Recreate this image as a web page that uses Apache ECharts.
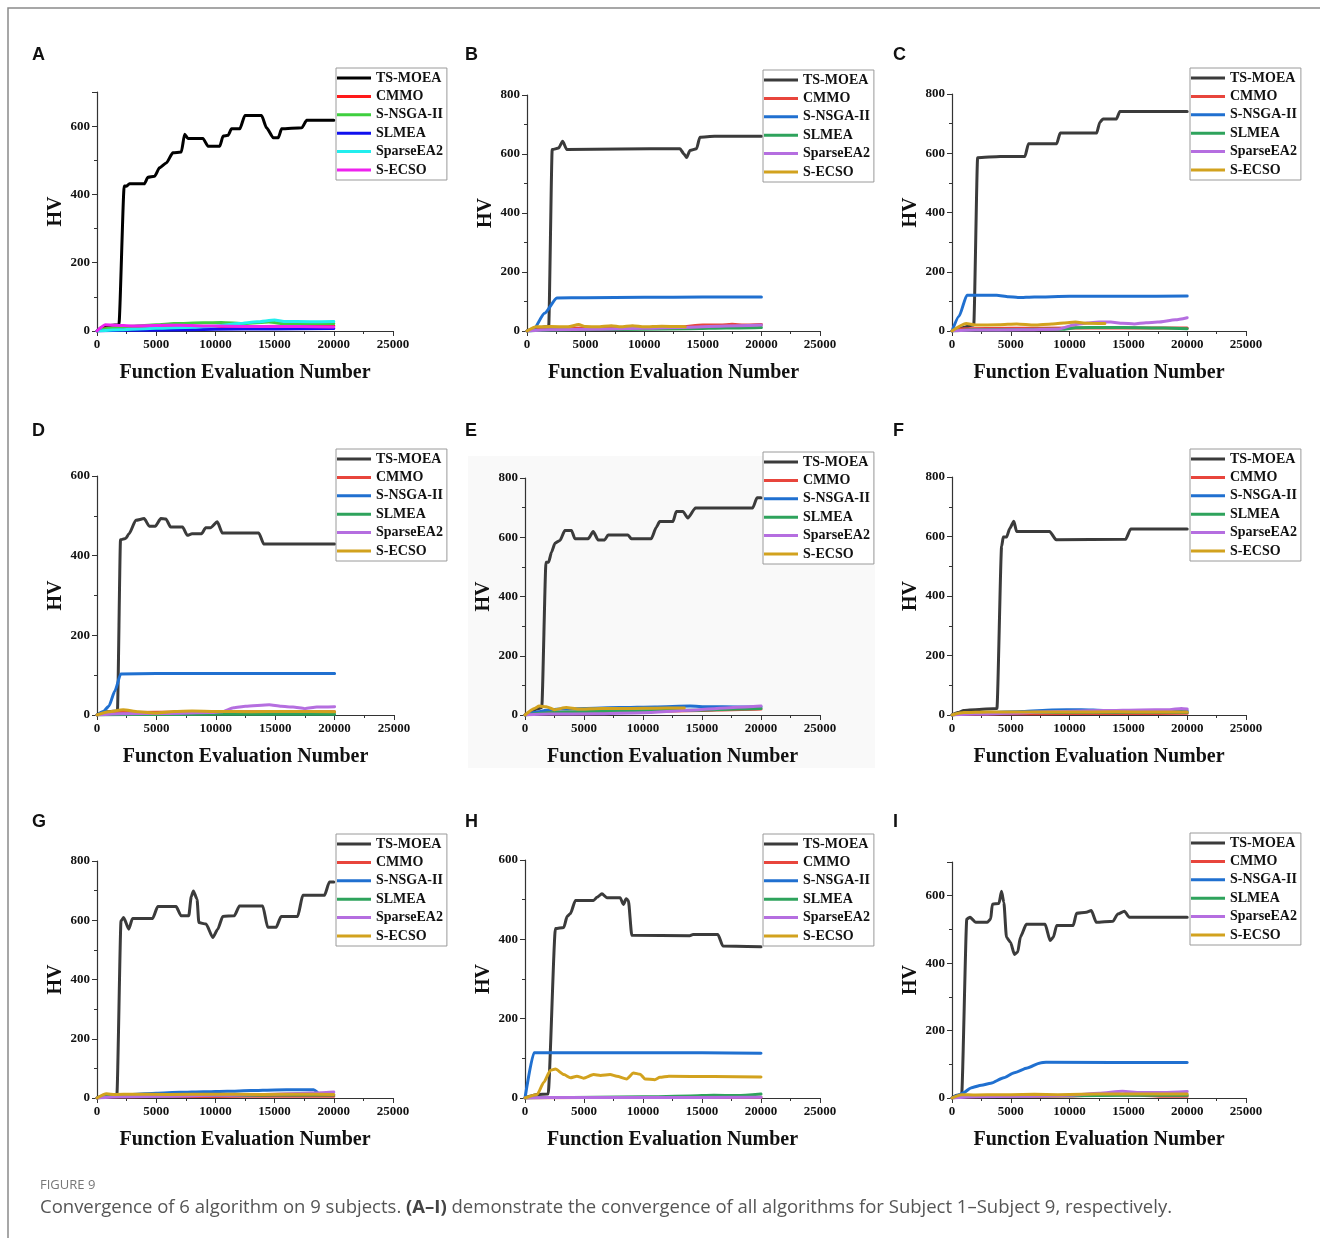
<!DOCTYPE html>
<html>
<head>
<meta charset="utf-8">
<title>Figure 9 - Convergence</title>
<script src="https://cdn.jsdelivr.net/npm/echarts@6/dist/echarts.min.js"></script>
<style>
  html, body { margin: 0; padding: 0; background: #fff; }
  #main { width: 1320px; height: 1238px; }
</style>
</head>
<body>
<div id="main"></div>
<script>
// algorithm names (legend order)
var names = ['TS-MOEA', 'CMMO', 'S-NSGA-II', 'SLMEA', 'SparseEA2', 'S-ECSO'];

// ---- Subject 1 (A) ----
var tsA = [[0,0],[400,10],[800,16],[1850,18],[2300,425],[2460,424],[2740,431],[4000,431],[4300,450],[4860,453],[5280,478],[5850,492],[6410,522],[7120,524],[7400,576],[7680,564],[8950,564],[9380,541],[10370,541],[10650,571],[11070,573],[11360,592],[12060,592],[12490,631],[13900,631],[14320,595],[14890,566],[15310,566],[15590,592],[17290,595],[17710,617],[20000,617]];
var cmA = [[0,0],[800,8],[2000,10],[5000,12],[8000,13],[12000,13],[16000,14],[20000,15]];
var nsA = [[0,0],[1000,8],[3000,14],[5000,18],[6500,22],[9000,24],[10500,25],[12500,22],[14500,26],[16000,21],[18000,22],[20000,22]];
var slA = [[0,0],[2000,2],[6000,3],[10000,5],[15000,6],[20000,7]];
var spA = [[0,0],[2000,4],[5000,8],[8000,11],[10000,14],[12000,22],[13500,27],[15000,32],[15800,28],[18000,27],[20000,28]];
var ecA = [[0,0],[700,18],[1500,17],[3000,15],[5000,16],[7000,17],[9000,15],[11000,14],[14000,13],[17000,13],[20000,12]];

// ---- Subject 2 (B) ----
var tsB = [[0,0],[500,8],[1850,15],[2150,615],[2700,620],[3040,643],[3400,615],[8000,617],[13050,618],[13400,600],[13620,588],[13900,612],[14470,618],[14750,657],[16000,660],[20000,660]];
var cmB = [[0,0],[1000,8],[5000,10],[10000,12],[13000,14],[15000,20],[16500,20],[17500,23],[18500,20],[20000,22]];
var nsB = [[0,0],[500,2],[1500,60],[2550,112],[5000,113],[10000,114],[15000,115],[20000,115]];
var slB = [[0,0],[2000,3],[6000,5],[10000,6],[14000,8],[17000,10],[20000,12]];
var spB = [[0,0],[2000,4],[6000,6],[10000,9],[14000,13],[17000,17],[20000,20]];
var ecB = [[0,0],[800,14],[2000,15],[3500,14],[4400,22],[5000,15],[6000,14],[7200,18],[8000,14],[9000,18],[10000,14],[11500,16],[13000,15],[13500,14]];

// ---- Subject 3 (C) ----
var tsC = [[0,0],[800,10],[1850,20],[2180,585],[4100,589],[6200,589],[6500,632],[8900,632],[9200,668],[12300,668],[12570,705],[12850,716],[13980,716],[14270,741],[20000,741]];
var cmC = [[0,0],[1000,8],[5000,9],[10000,10],[15000,10],[20000,10]];
var nsC = [[0,0],[600,50],[1270,121],[3800,121],[4800,116],[5600,113],[7000,115],[10000,117],[15000,117],[20000,118]];
var slC = [[0,0],[2000,4],[6000,5],[9500,6],[10500,11],[13000,12],[16000,11],[18000,10],[20000,8]];
var spC = [[0,0],[2000,3],[6000,4],[9000,6],[10500,22],[11500,27],[12500,30],[13500,30],[14500,26],[15500,24],[16500,28],[17500,30],[19000,38],[20000,45]];
var ecC = [[0,0],[1200,25],[2000,20],[4000,21],[5500,24],[7000,20],[8500,24],[9500,27],[10500,30],[11500,26],[13000,25]];

// ---- Subject 4 (D) ----
var tsD = [[0,0],[600,8],[1720,10],[1980,440],[2400,443],[2700,455],[3270,489],[3970,493],[4400,474],[4900,474],[5370,493],[5800,492],[6200,472],[7200,472],[7600,451],[8000,455],[8800,455],[9150,470],[9550,470],[10130,485],[10550,457],[13620,457],[14040,429],[20000,429]];
var cmD = [[0,0],[1000,6],[5000,7],[10000,8],[15000,8],[20000,8]];
var nsD = [[0,0],[500,8],[1000,22],[1500,60],[2000,103],[5000,104],[10000,104],[15000,104],[20000,104]];
var slD = [[0,0],[3000,1],[10000,2],[20000,2]];
var spD = [[0,0],[2000,3],[6000,4],[9500,6],[10500,8],[11500,18],[12500,22],[14500,26],[15500,22],[16500,20],[17500,16],[18500,20],[20000,21]];
var ecD = [[0,0],[1000,8],[2200,13],[3500,8],[5000,5],[6500,9],[8000,10],[10000,9],[13000,8],[16000,9],[20000,8]];

// ---- Subject 5 (E) ----
var tsE = [[0,0],[500,8],[1000,20],[1420,25],[1780,516],[2000,516],[2250,550],[2540,580],[2960,589],[3380,623],[3940,623],[4230,595],[5350,595],[5780,619],[6200,591],[6760,591],[7040,608],[8730,608],[9010,595],[10700,595],[11130,634],[11410,653],[12540,653],[12820,687],[13380,687],[13800,665],[14450,699],[19300,699],[19660,733],[20000,733]];
var cmE = [[0,0],[1000,8],[5000,10],[10000,12],[15000,15],[17500,18],[20000,20]];
var nsE = [[0,0],[1000,10],[2000,17],[3000,20],[5000,22],[8000,25],[11000,27],[14000,30],[15500,28],[18000,27],[20000,28]];
var slE = [[0,0],[2000,8],[6000,12],[10000,14],[14000,16],[18000,20],[20000,22]];
var spE = [[0,0],[2000,3],[6000,4],[10000,8],[14000,16],[17000,24],[19000,28],[20000,30]];
var ecE = [[0,0],[800,22],[1200,30],[1800,28],[2500,18],[3500,25],[4500,20],[6500,22],[9000,22],[11000,23],[13500,24]];

// ---- Subject 6 (F) ----
var tsF = [[0,0],[500,8],[1000,15],[2000,18],[3820,22],[4220,567],[4360,598],[4640,598],[4920,628],[5260,651],[5490,617],[8300,617],[8860,589],[14770,591],[15190,625],[20000,625]];
var cmF = [[0,0],[1000,3],[5000,4],[10000,5],[15000,5],[20000,6]];
var nsF = [[0,0],[1000,5],[3000,8],[6000,12],[8500,17],[11000,18],[13000,15],[16000,15],[18000,14],[20000,14]];
var slF = [[0,0],[1000,5],[5000,8],[10000,9],[15000,9],[20000,9]];
var spF = [[0,0],[2000,3],[5000,6],[9000,12],[13000,15],[16000,17],[18500,18],[19500,22],[20000,20]];
var ecF = [[0,0],[1000,8],[3000,10],[6000,10],[10000,10],[14000,11],[17000,10],[20000,10]];

// ---- Subject 7 (G) ----
var tsG = [[0,0],[500,8],[1000,12],[1680,12],[2030,598],[2250,609],[2680,570],[3000,606],[4700,606],[5130,646],[6680,646],[7100,615],[7750,615],[7960,680],[8140,699],[8450,671],[8600,592],[9210,587],[9780,542],[10200,570],[10620,613],[11600,615],[12030,648],[14000,648],[14420,576],[15130,576],[15550,613],[16950,613],[17380,684],[19210,684],[19630,729],[20000,729]];
var cmG = [[0,0],[1000,4],[5000,5],[10000,5],[15000,6],[20000,6]];
var nsG = [[0,0],[1000,8],[3000,12],[5000,16],[7000,19],[9000,21],[11000,23],[13000,25],[15000,27],[17000,28],[18300,28],[18600,20]];
var slG = [[0,0],[1000,5],[5000,8],[10000,9],[15000,10],[20000,10]];
var spG = [[0,0],[2000,4],[6000,6],[10000,9],[14000,12],[17000,15],[19000,18],[20000,20]];
var ecG = [[0,0],[800,14],[1500,12],[3000,13],[6000,12],[10000,13],[14000,12],[17000,13],[20000,12]];

// ---- Subject 8 (H) ----
var tsH = [[0,0],[500,5],[1000,9],[1960,10],[2580,427],[3290,430],[3570,458],[3850,465],[4270,498],[5810,498],[6100,506],[6520,515],[6940,505],[8060,505],[8340,488],[8570,502],[8760,498],[9050,410],[13960,409],[14240,412],[16350,412],[16770,383],[20000,381]];
var cmH = [[0,0],[5000,1],[10000,1],[20000,2]];
var nsH = [[0,0],[760,114],[5000,114],[10000,114],[15000,114],[20000,113]];
var slH = [[0,0],[2000,1],[6000,2],[10000,3],[14000,5],[16000,7],[18000,6],[20000,10]];
var spH = [[0,0],[2000,1],[10000,1],[20000,2]];
var ecH = [[0,0],[1040,9],[1600,40],[2160,70],[2580,73],[3300,59],[3850,51],[4400,55],[4970,50],[5810,59],[6400,57],[7220,59],[7780,55],[8620,48],[9190,63],[9750,60],[10170,48],[11000,46],[11430,52],[12200,55],[16000,54],[20000,53]];

// ---- Subject 9 (I) ----
var tsI = [[0,0],[400,8],[820,10],[1260,531],[1540,536],[2010,521],[3000,521],[3290,531],[3430,575],[3990,577],[4210,613],[4410,580],[4630,477],[4970,462],[5310,426],[5590,433],[5810,477],[6320,515],[7920,515],[8340,467],[8620,477],[8900,512],[10310,512],[10590,548],[11430,551],[11850,556],[12270,521],[13680,524],[14100,546],[14660,554],[15080,536],[20000,536]];
var cmI = [[0,0],[1000,4],[5000,5],[10000,6],[14000,10],[16000,8],[18000,5],[20000,5]];
var nsI = [[0,0],[500,8],[1000,16],[1600,30],[2500,38],[3300,44],[4400,60],[5300,75],[6400,89],[7500,104],[8000,106],[20000,105]];
var slI = [[0,0],[1000,5],[5000,6],[10000,7],[15000,8],[20000,8]];
var spI = [[0,0],[2000,4],[6000,5],[10000,8],[12500,14],[14500,20],[16000,16],[18000,16],[20000,19]];
var ecI = [[0,0],[800,10],[2000,9],[4000,10],[5000,10],[7000,11],[9000,10],[11000,11],[14000,12],[17000,12],[20000,12]];

var colorsA = ['#000000', '#ff1a1a', '#3fcf3f', '#1010ee', '#22eeee', '#ee22ee'];
var colorsRest = ['#3b3b3b', '#e8453c', '#2070d0', '#2ea35c', '#b56ee0', '#d2a21e'];

var serif = '"Liberation Serif", "Times New Roman", serif';

var panels = [
  { letter: 'A', lx: 32, ly: 46, grid: [97, 92, 296, 239], ymax: 700, leg: [336, 68], colors: colorsA, data: [tsA, cmA, nsA, slA, spA, ecA], xname: 'Function Evaluation Number' },
  { letter: 'B', lx: 465, ly: 46, grid: [527, 95, 293, 236], ymax: 800, leg: [763, 70], colors: colorsRest, data: [tsB, cmB, nsB, slB, spB, ecB], xname: 'Function Evaluation Number' },
  { letter: 'C', lx: 893, ly: 46, grid: [952, 94, 294, 237], ymax: 800, leg: [1190, 68], colors: colorsRest, data: [tsC, cmC, nsC, slC, spC, ecC], xname: 'Function Evaluation Number' },
  { letter: 'D', lx: 32, ly: 422, grid: [97, 476, 297, 239], ymax: 600, leg: [336, 449], colors: colorsRest, data: [tsD, cmD, nsD, slD, spD, ecD], xname: 'Functon Evaluation Number' },
  { letter: 'E', lx: 465, ly: 422, grid: [525, 478, 295, 237], ymax: 800, leg: [763, 452], colors: colorsRest, data: [tsE, cmE, nsE, slE, spE, ecE], xname: 'Function Evaluation Number' },
  { letter: 'F', lx: 893, ly: 422, grid: [952, 477, 294, 238], ymax: 800, leg: [1190, 449], colors: colorsRest, data: [tsF, cmF, nsF, slF, spF, ecF], xname: 'Function Evaluation Number' },
  { letter: 'G', lx: 32, ly: 813, grid: [97, 861, 296, 237], ymax: 800, leg: [336, 834], colors: colorsRest, data: [tsG, cmG, nsG, slG, spG, ecG], xname: 'Function Evaluation Number' },
  { letter: 'H', lx: 465, ly: 813, grid: [525, 860, 295, 238], ymax: 600, leg: [763, 834], colors: colorsRest, data: [tsH, cmH, nsH, slH, spH, ecH], xname: 'Function Evaluation Number' },
  { letter: 'I', lx: 893, ly: 813, grid: [952, 862, 294, 236], ymax: 700, leg: [1190, 833], colors: colorsRest, data: [tsI, cmI, nsI, slI, spI, ecI], xname: 'Function Evaluation Number' }
];

var axisColor = '#333';
var tickLabel = {
  fontFamily: serif, fontWeight: 'bold', fontSize: 13, color: '#111', margin: 7,
  formatter: function (v) { return String(v); }
};
var nameStyle = { fontFamily: serif, fontWeight: 'bold', fontSize: 20, color: '#111' };

var grids = [], xAxes = [], yAxes = [], legends = [], series = [];
var graphics = [
  { type: 'polyline', shape: { points: [[8, 1238], [8, 8], [1320, 8]] }, style: { stroke: '#8a8a8a', lineWidth: 1.5, fill: null } },
  { type: 'rect', shape: { x: 468, y: 456, width: 407, height: 312 }, style: { fill: '#f9f9f9' }, z: -10 }
];

panels.forEach(function (p, i) {
  grids.push({ left: p.grid[0], top: p.grid[1], width: p.grid[2], height: p.grid[3] });
  xAxes.push({
    type: 'value', gridIndex: i, min: 0, max: 25000, interval: 5000,
    name: p.xname, nameLocation: 'middle', nameGap: 32, nameTextStyle: nameStyle,
    axisLine: { lineStyle: { color: axisColor, width: 1.2 } },
    axisTick: { length: 5, lineStyle: { color: axisColor } },
    minorTick: { show: true, splitNumber: 2, length: 3, lineStyle: { color: axisColor } },
    splitLine: { show: false },
    axisLabel: tickLabel
  });
  yAxes.push({
    type: 'value', gridIndex: i, min: 0, max: p.ymax, interval: 200,
    name: 'HV', nameLocation: 'middle', nameGap: 31, nameTextStyle: nameStyle,
    axisLine: { show: true, lineStyle: { color: axisColor, width: 1.2 } },
    axisTick: { show: true, length: 5, lineStyle: { color: axisColor } },
    minorTick: { show: true, splitNumber: 2, length: 3, lineStyle: { color: axisColor } },
    splitLine: { show: false },
    axisLabel: Object.assign({ showMaxLabel: p.ymax % 200 === 0 }, tickLabel)
  });
  legends.push({
    orient: 'vertical', left: p.leg[0], top: p.leg[1],
    icon: 'rect', itemWidth: 34, itemHeight: 3, itemGap: 4.4,
    padding: [3, 4, 3, 1], borderColor: '#9a9a9a', borderWidth: 1, borderRadius: 0,
    backgroundColor: '#fff', selectedMode: false,
    textStyle: { fontFamily: serif, fontWeight: 'bold', fontSize: 14, lineHeight: 14, color: '#111' },
    data: names.map(function (n, k) { return { name: n, itemStyle: { color: p.colors[k] } }; })
  });
  p.data.forEach(function (d, k) {
    series.push({
      type: 'line', name: names[k], xAxisIndex: i, yAxisIndex: i, data: d,
      showSymbol: false, symbol: 'none', smooth: 0.2, smoothMonotone: 'x',
      lineStyle: { width: 3, color: p.colors[k], join: 'round', cap: 'round' },
      itemStyle: { color: p.colors[k] }
    });
  });
  graphics.push({
    type: 'text', left: p.lx, top: p.ly,
    style: { text: p.letter, font: 'bold 18px "Liberation Sans", Arial, sans-serif', fill: '#111' }
  });
});

graphics.push({
  type: 'text', left: 40, top: 1179,
  style: { text: 'FIGURE 9', font: '13px "Open Sans", sans-serif', fill: '#777' }
});
graphics.push({
  type: 'text', left: 40, top: 1198,
  style: {
    text: 'Convergence of 6 algorithm on 9 subjects. {b|(A\u2013I)} demonstrate the convergence of all algorithms for Subject 1\u2013Subject 9, respectively.',
    font: '18.5px "Open Sans", sans-serif', fill: '#555',
    rich: { b: { fontWeight: 'bold', fontSize: 18.5, fontFamily: '"Open Sans", sans-serif', fill: '#444' } }
  }
});

var chart = echarts.init(document.getElementById('main'), null, { renderer: 'canvas' });
chart.setOption({
  animation: false,
  backgroundColor: '#fff',
  grid: grids,
  xAxis: xAxes,
  yAxis: yAxes,
  legend: legends,
  series: series,
  graphic: graphics
});
</script>
</body>
</html>
